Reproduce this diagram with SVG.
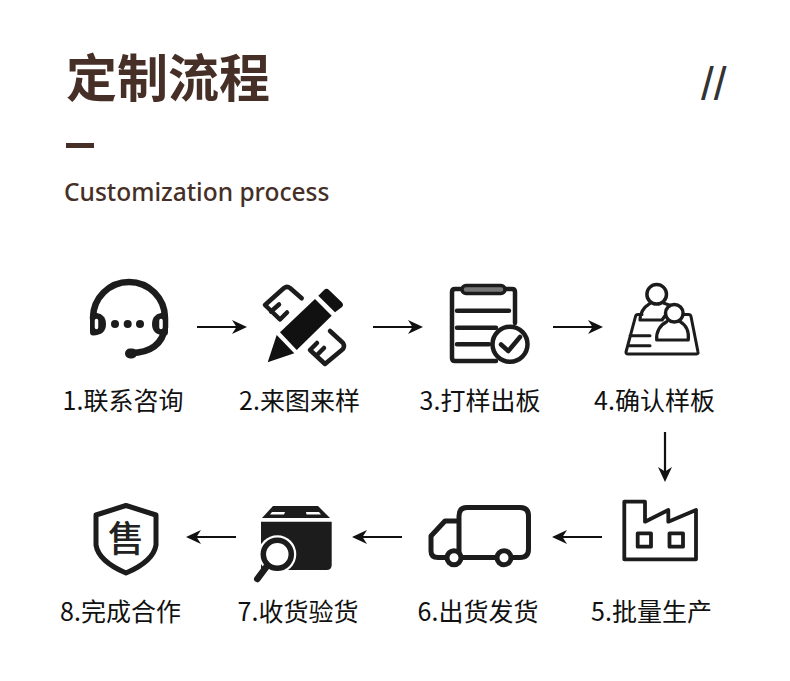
<svg xmlns="http://www.w3.org/2000/svg" width="790" height="681" viewBox="0 0 790 681">
<style>
text{font-family:"Noto Sans CJK SC","Noto Sans",sans-serif}
.title{font-size:51px;font-weight:700;fill:#452f26}
.sub{font-family:"Noto Sans","Noto Sans CJK SC",sans-serif;font-size:24.5px;font-weight:500;fill:#452f26}
.lb{font-size:25px;font-weight:400;fill:#111;text-anchor:middle}
.ln{fill:none;stroke:#1c1c1c;stroke-linecap:round;stroke-linejoin:round}
.fl{fill:#1c1c1c}
.ar{fill:none;stroke:#111;stroke-width:2.200;marker-end:url(#a)}
</style>
<defs>
<marker id="a" markerUnits="userSpaceOnUse" markerWidth="18" markerHeight="16" refX="11" refY="7.500" orient="auto">
<path d="M0,.5 L15,7.500 L0,14.500 L4.500,7.500 Z" fill="#111"/>
</marker>
</defs>
<rect width="790" height="681" fill="#fff"/>
<g id="header">
<text class="title" x="66" y="97">定制流程</text>
<rect x="66" y="143" width="28" height="5" fill="#452f26"/>
<text class="sub" x="64" y="201">Customization process</text>
<text x="701" y="100" style="font-family:'Liberation Sans',sans-serif;font-size:46px;fill:#333">//</text>
</g>
<g id="connectors">
<path class="ar" d="M197,327H243"/>
<path class="ar" d="M373,327H419"/>
<path class="ar" d="M553,327H599"/>
<path class="ar" d="M665,432V478"/>
<path class="ar" d="M602,537H556"/>
<path class="ar" d="M402,537H356"/>
<path class="ar" d="M236,537H190"/>
</g>
<g id="node1">
<path class="ln" stroke-width="6.500" d="M93,318A36,36 0 1 1 165,318V327C163,344 150,353 131,353"/>
<path class="ln" stroke-width="10" d="M130,353.500H132"/>
<path class="fl" d="M93,312.500Q106,313 106,324Q106,335 93,335.500Q90,335.500 90,332V316Q90,312.500 93,312.500Z"/>
<path class="fl" d="M165,312.500Q152,313 152,324Q152,335 165,335.500Q168,335.500 168,332V316Q168,312.500 165,312.500Z"/>
<path d="M96.500,320.500V327.500M161,320.500V327.500" fill="none" stroke="#fff" stroke-width="3.500" stroke-linecap="round"/>
<circle class="fl" cx="115" cy="324" r="4"/><circle class="fl" cx="127.700" cy="324" r="4"/><circle class="fl" cx="140" cy="324" r="4"/>
<text class="lb" x="123" y="410">1.联系咨询</text>
</g>
<g id="node2">
<path class="ln" stroke-width="4.500" stroke-linejoin="miter" d="M301.700,298.300L290,288Q287,285.700 284,288L265,305L280,319.500L287,312.500M271,311.500L279,304.500"/>
<path class="ln" stroke-width="4.500" d="M330,331L343,343Q345,346 343,349L325,364L310,350L317,343M317,355L324,348"/>
<path d="M267.700,362.300L276.700,335L294.300,353.300Z" fill="#111"/>
<path d="M280,332.300L315,299L331.700,315.700L296.700,350Z" fill="#111"/>
<path d="M318.300,295.700L324,290Q326.700,287.500 329,290L342,302.500Q344,305 342,307L335,312.300Z" fill="#111"/>
<text class="lb" x="299.500" y="410">2.来图来样</text>
</g>
<g id="node3">
<path class="ln" stroke-width="4.500" d="M515,323V292Q515,289 512,289H455Q452,289 452,292V358Q452,361 455,361H496"/>
<rect x="462" y="285.500" width="43" height="8" rx="4" fill="#777" stroke="#1c1c1c" stroke-width="3.500"/>
<path class="ln" stroke-width="4.500" d="M457,310.700H509M457,327.700H496M457,344.300H489"/>
<circle cx="510" cy="344.300" r="17.500" fill="#fff" stroke="#1c1c1c" stroke-width="4.500"/>
<path class="ln" stroke-width="4.500" d="M501,344.500L508.300,351L520,337"/>
<text class="lb" x="480" y="410">3.打样出板</text>
</g>
<g id="node4">
<path class="ln" stroke-width="3" d="M642,314.500H638Q636,314.500 635.500,316.500L626,352Q625.700,354 628,354H696Q698.500,354 698,352L691,316.500Q690.500,314.500 688.500,314.500H680M630,335.700H650M627.700,345.700H650"/>
<path class="ln" stroke-width="3.200" fill="#fff" d="M650,303.300C644,307 640,313 640,320H662L672,306L664,303.300"/>
<circle cx="656.700" cy="294.300" r="9.800" fill="#fff" stroke="#1c1c1c" stroke-width="3.500"/>
<path class="ln" stroke-width="3.200" fill="#fff" d="M666.700,321.700C660,325 656,332 656.700,340H688.300C689,332 686,325 680,321.700"/>
<circle cx="674.300" cy="313.300" r="8.800" fill="#fff" stroke="#1c1c1c" stroke-width="3.500"/>
<text class="lb" x="654.500" y="410">4.确认样板</text>
</g>
<g id="node5">
<path class="ln" stroke-width="3.800" d="M624.300,501.700H645V521.700L668.300,510V521.700L696,510V559.300H624.300Z"/>
<rect x="637.700" y="533.300" width="13.300" height="13.400" class="ln" stroke-width="3.800"/>
<rect x="669.500" y="533.300" width="13.500" height="13.400" class="ln" stroke-width="3.800"/>
<text class="lb" x="651.500" y="621">5.批量生产</text>
</g>
<g id="node6">
<path class="ln" stroke-width="5" d="M459,558V516Q459,507.500 467,507.500H520Q528.500,507.500 528.500,516V549Q528.500,557.500 520,557.500H459M459,521H445L431,536V551Q431,557.500 438,557.500H447"/>
<circle cx="454" cy="557.700" r="7" fill="#fff" stroke="#1c1c1c" stroke-width="5"/>
<circle cx="504" cy="557.700" r="7" fill="#fff" stroke="#1c1c1c" stroke-width="5"/>
<text class="lb" x="478" y="621">6.出货发货</text>
</g>
<g id="node7">
<path class="fl" d="M273,506H318L330,518H262Z"/>
<path d="M272,512H285L284,514.500H270ZM306,512H319L321,514.500H306.500Z" fill="#fff"/>
<path class="fl" d="M261,521.700H331.700V565Q331.700,570 326.500,570H261Z"/>
<circle cx="277.300" cy="554.300" r="19" fill="#fff"/>
<path d="M250,570h11v12h-11Z" fill="#fff"/>
<circle cx="277.300" cy="554.300" r="14" fill="#fff" stroke="#1c1c1c" stroke-width="5.500"/>
<path class="ln" stroke-width="6.500" d="M257.300,579L267,566"/>
<text class="lb" x="298" y="621">7.收货验货</text>
</g>
<g id="node8">
<path class="ln" stroke-width="5" d="M126,505.500L156,515V545C154,558 140,567 126,573C112,567 98,558 96,545V515Z"/>
<text x="126" y="552" text-anchor="middle" style="font-size:36px;font-weight:500;fill:#222">售</text>
<text class="lb" x="120.500" y="621">8.完成合作</text>
</g>
</svg>
